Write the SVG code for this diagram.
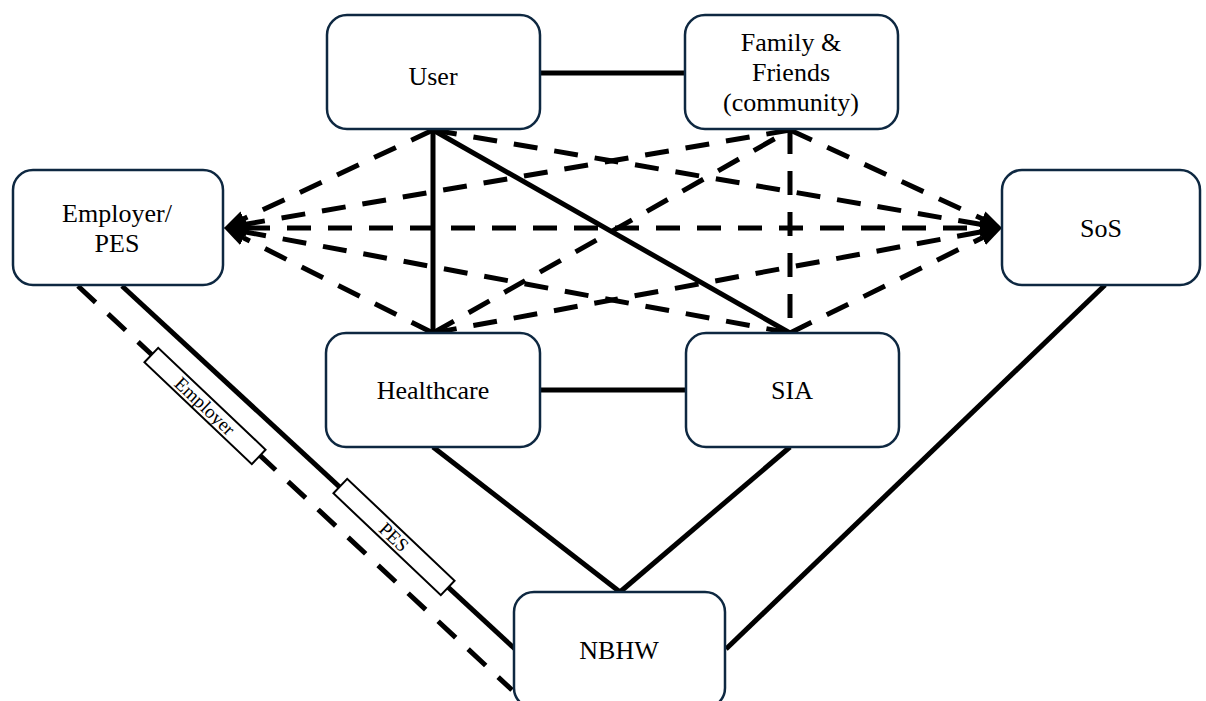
<svg xmlns="http://www.w3.org/2000/svg" width="1206" height="701" viewBox="0 0 1206 701">
<style>
.node rect{fill:#fff;stroke:#0e2841;stroke-width:2.5}
.ntext{font-family:'Liberation Serif','DejaVu Serif',serif;font-size:26px;fill:#000;text-anchor:middle}
.solid{stroke:#000;stroke-width:5;fill:none}
.dash{stroke:#000;stroke-width:5;fill:none;stroke-dasharray:24 17}
.lbl rect{fill:#fff;stroke:#000;stroke-width:2}
.ltext{font-family:'Liberation Serif','DejaVu Serif',serif;font-size:19px;fill:#000;text-anchor:middle}
</style>
<defs>
<marker id="ah" markerUnits="userSpaceOnUse" markerWidth="22" markerHeight="16" viewBox="0 0 22 16" refX="0" refY="8" orient="auto-start-reverse">
<path d="M0,0 L22,8 L0,16 z" fill="#000"/>
</marker>
</defs>
<rect width="1206" height="701" fill="#fff"/>
<g id="connectors">
<line class="solid" x1="540" y1="73" x2="685" y2="73"/>
<line class="solid" x1="540" y1="390" x2="686" y2="390"/>
<line class="solid" x1="433" y1="130" x2="433" y2="333"/>
<line class="solid" x1="433" y1="130" x2="790" y2="333"/>
<line class="dash" x1="790" y1="130" x2="790" y2="333"/>
<line class="dash" x1="433" y1="333" x2="790" y2="130"/>
<line class="dash" x1="433" y1="130" x2="243.9" y2="218.7" marker-end="url(#ah)"/>
<line class="dash" x1="790" y1="130" x2="245.7" y2="224.2" marker-end="url(#ah)"/>
<line class="dash" x1="433" y1="333" x2="243.7" y2="237.9" marker-end="url(#ah)"/>
<line class="dash" x1="790" y1="333" x2="245.6" y2="232" marker-end="url(#ah)"/>
<line class="dash" x1="246" y1="228" x2="980" y2="228" marker-start="url(#ah)" marker-end="url(#ah)"/>
<line class="dash" x1="433" y1="130" x2="980.3" y2="224.3" marker-end="url(#ah)"/>
<line class="dash" x1="790" y1="130" x2="982.1" y2="218.7" marker-end="url(#ah)"/>
<line class="dash" x1="433" y1="333" x2="980.4" y2="232" marker-end="url(#ah)"/>
<line class="dash" x1="790" y1="333" x2="982.3" y2="237.8" marker-end="url(#ah)"/>
<line class="solid" x1="433" y1="447" x2="620" y2="592"/>
<line class="solid" x1="790" y1="447" x2="620" y2="592"/>
<line class="solid" x1="1105" y1="285" x2="726" y2="649"/>
<line class="solid" x1="122" y1="286" x2="515" y2="649"/>
<line class="dash" x1="78" y1="286" x2="512" y2="690"/>
<g id="label-employer" class="lbl" transform="translate(205,406) rotate(43.5)">
<rect x="-74" y="-10" width="148" height="20"/>
<text class="ltext" x="0" y="6.5">Employer</text>
</g>
<g id="label-pes" class="lbl" transform="translate(394,537) rotate(43.5)">
<rect x="-74" y="-10" width="148" height="20"/>
<text class="ltext" x="0" y="6.5">PES</text>
</g>
</g>
<g id="node-user" class="node">
<rect x="327" y="15" width="213" height="114" rx="20"/>
<text class="ntext" x="433" y="85">User</text>
</g>
<g id="node-family" class="node">
<rect x="685" y="15" width="213" height="114" rx="20"/>
<text class="ntext" x="791" y="51">Family &amp;</text>
<text class="ntext" x="791" y="81">Friends</text>
<text class="ntext" x="791" y="111">(community)</text>
</g>
<g id="node-employer" class="node">
<rect x="13" y="170" width="210" height="115" rx="20"/>
<text class="ntext" x="117" y="222">Employer/</text>
<text class="ntext" x="117" y="252">PES</text>
</g>
<g id="node-sos" class="node">
<rect x="1002" y="170" width="198" height="115" rx="20"/>
<text class="ntext" x="1101" y="237">SoS</text>
</g>
<g id="node-healthcare" class="node">
<rect x="326" y="333" width="214" height="114" rx="20"/>
<text class="ntext" x="433" y="399">Healthcare</text>
</g>
<g id="node-sia" class="node">
<rect x="686" y="333" width="213" height="114" rx="20"/>
<text class="ntext" x="792" y="399">SIA</text>
</g>
<g id="node-nbhw" class="node">
<rect x="514" y="592" width="211" height="116" rx="20"/>
<text class="ntext" x="619" y="659">NBHW</text>
</g>
</svg>
